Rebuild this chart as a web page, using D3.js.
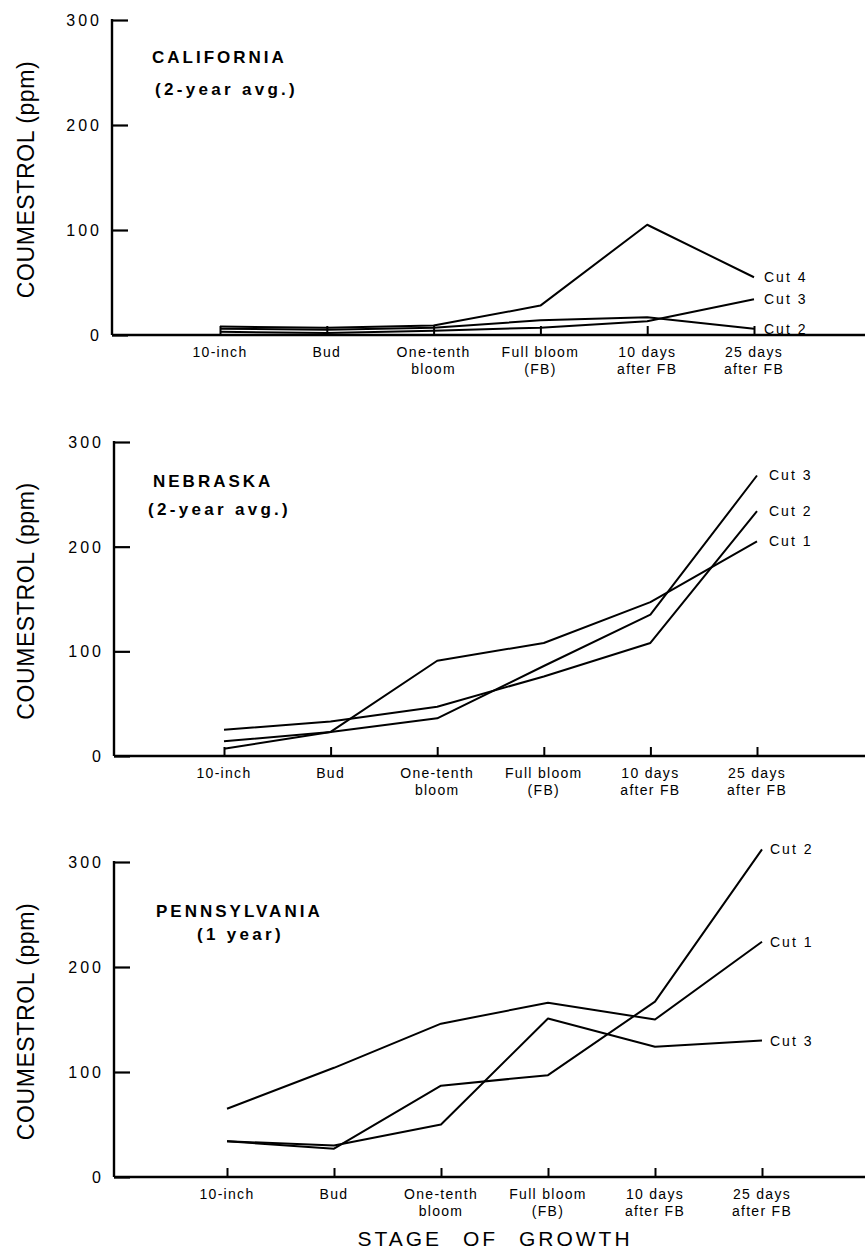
<!DOCTYPE html>
<html>
<head>
<meta charset="utf-8">
<script src="https://cdn.jsdelivr.net/npm/d3@7"></script>
<style>
  html, body { margin: 0; padding: 0; background: #fff; }
  svg { display: block; }
  text { font-family: "Liberation Sans", Arial, sans-serif; fill: #000; }
</style>
</head>
<body>
<svg id="chart" width="865" height="1252"></svg>
<script>
// ---- data ----
const stages = ["10-inch", "Bud", "One-tenth bloom", "Full bloom (FB)", "10 days after FB", "25 days after FB"];
const stageLabelLines = [["10-inch"], ["Bud"], ["One-tenth", "bloom"], ["Full bloom", "(FB)"], ["10 days", "after FB"], ["25 days", "after FB"]];
const yTicks = [0, 100, 200, 300];

const californiaCuts = ["Cut 4", "Cut 3", "Cut 2"];
const californiaCut4 = [8, 7, 9, 28, 105, 55];
const californiaCut3 = [3, 2, 4, 7, 13, 34];
const californiaCut2 = [6, 5, 7, 14, 17, 6];

const nebraskaCuts = ["Cut 3", "Cut 2", "Cut 1"];
const nebraskaCut3 = [14, 23, 36, 86, 135, 268];
const nebraskaCut2 = [25, 33, 47, 76, 108, 234];
const nebraskaCut1 = [7, 23, 91, 108, 147, 205];

const pennsylvaniaCuts = ["Cut 2", "Cut 1", "Cut 3"];
const pennsylvaniaCut2 = [34, 27, 87, 97, 167, 312];
const pennsylvaniaCut1 = [65, 104, 146, 166, 150, 224];
const pennsylvaniaCut3 = [34, 30, 50, 151, 124, 130];

const panelTitles = [["CALIFORNIA", "(2-year avg.)"], ["NEBRASKA", "(2-year avg.)"], ["PENNSYLVANIA", "(1 year)"]];

// ---- layout ----
const panels = [
  { axisX: 112, y0: 335, y300: 20, x0: 220, x1: 754, labelDx: 10,
    titleX: [152, 155], titleY: [63, 95],
    series: [californiaCut4, californiaCut3, californiaCut2], names: californiaCuts },
  { axisX: 114, y0: 756, y300: 442, x0: 224, x1: 757, labelDx: 12,
    titleX: [153, 148], titleY: [487, 515],
    series: [nebraskaCut3, nebraskaCut2, nebraskaCut1], names: nebraskaCuts },
  { axisX: 114, y0: 1177, y300: 862, x0: 227, x1: 762, labelDx: 8,
    titleX: [156, 197], titleY: [917, 940],
    series: [pennsylvaniaCut2, pennsylvaniaCut1, pennsylvaniaCut3], names: pennsylvaniaCuts }
];

const svg = d3.select("#chart");

panels.forEach((p, pi) => {
  const g = svg.append("g");
  const x = d3.scalePoint().domain(stages).range([p.x0, p.x1]);
  const y = d3.scaleLinear().domain([0, 300]).range([p.y0, p.y300]);

  // y axis (ticks pointing inward)
  const yAxis = d3.axisRight(y).tickValues(yTicks).tickSize(16).tickFormat("");
  const ya = g.append("g").attr("transform", `translate(${p.axisX},0)`).call(yAxis);
  ya.select(".domain").remove();
  ya.selectAll(".tick line").attr("stroke", "#000").attr("stroke-width", 2.2);
  g.append("line")
    .attr("x1", p.axisX).attr("x2", p.axisX)
    .attr("y1", y(300) - 1).attr("y2", y(0))
    .attr("stroke", "#000").attr("stroke-width", 2.4);
  // y tick labels
  g.selectAll(".ylab").data(yTicks).enter().append("text")
    .attr("x", p.axisX - 10).attr("y", d => y(d) + 6)
    .attr("text-anchor", "end")
    .style("font-size", "16px").style("letter-spacing", "3px")
    .text(d => d);

  // x axis
  const xAxis = d3.axisTop(x).tickSize(9).tickFormat("");
  const xa = g.append("g").attr("transform", `translate(0,${p.y0})`).call(xAxis);
  xa.select(".domain").remove();
  xa.selectAll(".tick line").attr("stroke", "#000").attr("stroke-width", 2);
  g.append("line")
    .attr("x1", p.axisX).attr("x2", 865)
    .attr("y1", p.y0).attr("y2", p.y0)
    .attr("stroke", "#000").attr("stroke-width", 2.4);

  // x labels
  stages.forEach((s, i) => {
    stageLabelLines[i].forEach((line, li) => {
      g.append("text")
        .attr("x", x(s)).attr("y", p.y0 + 22 + li * 17)
        .attr("text-anchor", "middle")
        .style("font-size", "14px").style("letter-spacing", "1.3px")
        .text(line);
    });
  });

  // y title
  const cy = (p.y0 + p.y300) / 2 + 2;
  g.append("text")
    .attr("transform", `translate(34,${cy}) rotate(-90)`)
    .attr("text-anchor", "middle")
    .style("font-size", "23px").style("letter-spacing", "0.6px")
    .text("COUMESTROL (ppm)");

  // panel title
  g.append("text").attr("x", p.titleX[0]).attr("y", p.titleY[0])
    .style("font-size", "17px").style("font-weight", "bold").style("letter-spacing", "3px")
    .text(panelTitles[pi][0]);
  g.append("text").attr("x", p.titleX[1]).attr("y", p.titleY[1])
    .style("font-size", "17px").style("font-weight", "bold").style("letter-spacing", "3.3px")
    .text(panelTitles[pi][1]);

  // lines
  const line = d3.line().x((d, i) => x(stages[i])).y(d => y(d));
  p.series.forEach((vals, si) => {
    g.append("path").datum(vals)
      .attr("d", line)
      .attr("fill", "none").attr("stroke", "#000").attr("stroke-width", 2)
      .attr("stroke-linejoin", "round");
    g.append("text")
      .attr("x", x(stages[5]) + p.labelDx)
      .attr("y", y(vals[5]) + 5)
      .style("font-size", "14px").style("letter-spacing", "2px")
      .text(p.names[si]);
  });
});

// bottom axis title
svg.append("text")
  .attr("x", 495).attr("y", 1246)
  .attr("text-anchor", "middle")
  .style("font-size", "21px").style("letter-spacing", "3px").style("word-spacing", "12px")
  .text("STAGE OF GROWTH");
</script>
</body>
</html>
